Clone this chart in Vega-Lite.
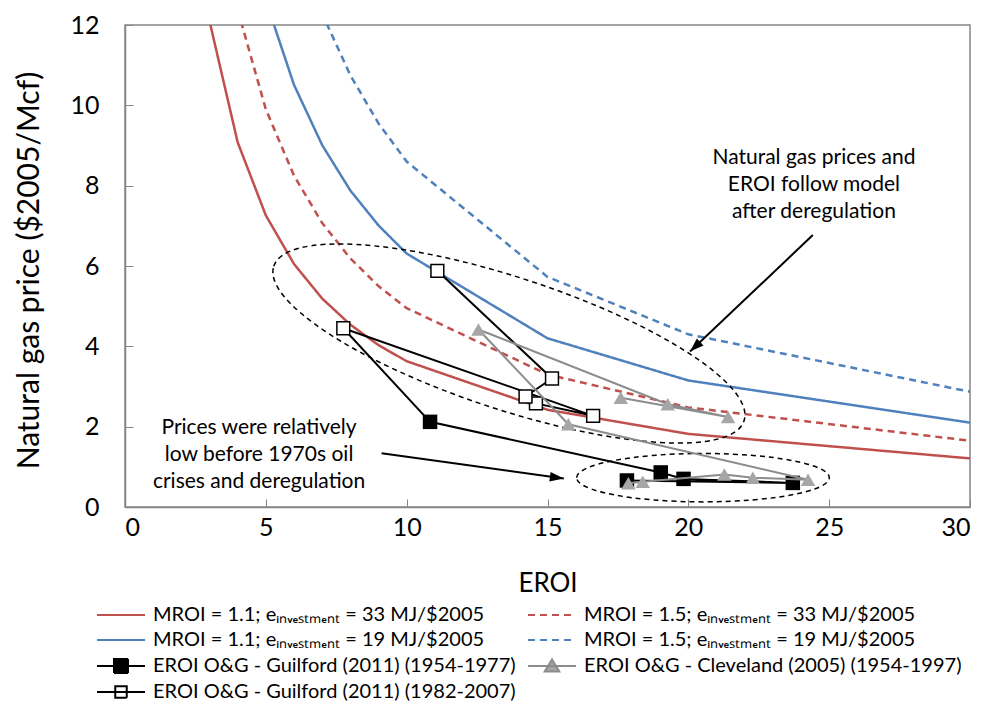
{
  "$schema": "https://vega.github.io/schema/vega-lite/v6.json",
  "width": 845,
  "height": 482,
  "autosize": {"type": "none"},
  "padding": {"left": 125, "top": 25, "right": 17, "bottom": 197},
  "background": "white",
  "datasets": {
    "curves": [
      {"s": "MROI = 1.1;  eᵢₙᵥₑₛₜₘₑₙₜ = 33 MJ/$2005", "x": 2, "y": 18.15},
      {"s": "MROI = 1.1;  eᵢₙᵥₑₛₜₘₑₙₜ = 33 MJ/$2005", "x": 3, "y": 12.10},
      {"s": "MROI = 1.1;  eᵢₙᵥₑₛₜₘₑₙₜ = 33 MJ/$2005", "x": 4, "y": 9.08},
      {"s": "MROI = 1.1;  eᵢₙᵥₑₛₜₘₑₙₜ = 33 MJ/$2005", "x": 5, "y": 7.26},
      {"s": "MROI = 1.1;  eᵢₙᵥₑₛₜₘₑₙₜ = 33 MJ/$2005", "x": 6, "y": 6.05},
      {"s": "MROI = 1.1;  eᵢₙᵥₑₛₜₘₑₙₜ = 33 MJ/$2005", "x": 7, "y": 5.19},
      {"s": "MROI = 1.1;  eᵢₙᵥₑₛₜₘₑₙₜ = 33 MJ/$2005", "x": 8, "y": 4.54},
      {"s": "MROI = 1.1;  eᵢₙᵥₑₛₜₘₑₙₜ = 33 MJ/$2005", "x": 9, "y": 4.03},
      {"s": "MROI = 1.1;  eᵢₙᵥₑₛₜₘₑₙₜ = 33 MJ/$2005", "x": 10, "y": 3.63},
      {"s": "MROI = 1.1;  eᵢₙᵥₑₛₜₘₑₙₜ = 33 MJ/$2005", "x": 15, "y": 2.42},
      {"s": "MROI = 1.1;  eᵢₙᵥₑₛₜₘₑₙₜ = 33 MJ/$2005", "x": 20, "y": 1.82},
      {"s": "MROI = 1.1;  eᵢₙᵥₑₛₜₘₑₙₜ = 33 MJ/$2005", "x": 30, "y": 1.21},
      {"s": "MROI = 1.5; eᵢₙᵥₑₛₜₘₑₙₜ = 33 MJ/$2005", "x": 3, "y": 16.5},
      {"s": "MROI = 1.5; eᵢₙᵥₑₛₜₘₑₙₜ = 33 MJ/$2005", "x": 4, "y": 12.38},
      {"s": "MROI = 1.5; eᵢₙᵥₑₛₜₘₑₙₜ = 33 MJ/$2005", "x": 5, "y": 9.9},
      {"s": "MROI = 1.5; eᵢₙᵥₑₛₜₘₑₙₜ = 33 MJ/$2005", "x": 6, "y": 8.25},
      {"s": "MROI = 1.5; eᵢₙᵥₑₛₜₘₑₙₜ = 33 MJ/$2005", "x": 7, "y": 7.07},
      {"s": "MROI = 1.5; eᵢₙᵥₑₛₜₘₑₙₜ = 33 MJ/$2005", "x": 8, "y": 6.19},
      {"s": "MROI = 1.5; eᵢₙᵥₑₛₜₘₑₙₜ = 33 MJ/$2005", "x": 9, "y": 5.5},
      {"s": "MROI = 1.5; eᵢₙᵥₑₛₜₘₑₙₜ = 33 MJ/$2005", "x": 10, "y": 4.95},
      {"s": "MROI = 1.5; eᵢₙᵥₑₛₜₘₑₙₜ = 33 MJ/$2005", "x": 15, "y": 3.3},
      {"s": "MROI = 1.5; eᵢₙᵥₑₛₜₘₑₙₜ = 33 MJ/$2005", "x": 20, "y": 2.48},
      {"s": "MROI = 1.5; eᵢₙᵥₑₛₜₘₑₙₜ = 33 MJ/$2005", "x": 30, "y": 1.65},
      {"s": "MROI = 1.1;  eᵢₙᵥₑₛₜₘₑₙₜ = 19 MJ/$2005", "x": 4, "y": 15.76},
      {"s": "MROI = 1.1;  eᵢₙᵥₑₛₜₘₑₙₜ = 19 MJ/$2005", "x": 5, "y": 12.61},
      {"s": "MROI = 1.1;  eᵢₙᵥₑₛₜₘₑₙₜ = 19 MJ/$2005", "x": 6, "y": 10.51},
      {"s": "MROI = 1.1;  eᵢₙᵥₑₛₜₘₑₙₜ = 19 MJ/$2005", "x": 7, "y": 9.01},
      {"s": "MROI = 1.1;  eᵢₙᵥₑₛₜₘₑₙₜ = 19 MJ/$2005", "x": 8, "y": 7.88},
      {"s": "MROI = 1.1;  eᵢₙᵥₑₛₜₘₑₙₜ = 19 MJ/$2005", "x": 9, "y": 7.01},
      {"s": "MROI = 1.1;  eᵢₙᵥₑₛₜₘₑₙₜ = 19 MJ/$2005", "x": 10, "y": 6.31},
      {"s": "MROI = 1.1;  eᵢₙᵥₑₛₜₘₑₙₜ = 19 MJ/$2005", "x": 15, "y": 4.2},
      {"s": "MROI = 1.1;  eᵢₙᵥₑₛₜₘₑₙₜ = 19 MJ/$2005", "x": 20, "y": 3.15},
      {"s": "MROI = 1.1;  eᵢₙᵥₑₛₜₘₑₙₜ = 19 MJ/$2005", "x": 30, "y": 2.1},
      {"s": "MROI = 1.5; eᵢₙᵥₑₛₜₘₑₙₜ = 19 MJ/$2005", "x": 5, "y": 17.2},
      {"s": "MROI = 1.5; eᵢₙᵥₑₛₜₘₑₙₜ = 19 MJ/$2005", "x": 6, "y": 14.33},
      {"s": "MROI = 1.5; eᵢₙᵥₑₛₜₘₑₙₜ = 19 MJ/$2005", "x": 7, "y": 12.28},
      {"s": "MROI = 1.5; eᵢₙᵥₑₛₜₘₑₙₜ = 19 MJ/$2005", "x": 8, "y": 10.75},
      {"s": "MROI = 1.5; eᵢₙᵥₑₛₜₘₑₙₜ = 19 MJ/$2005", "x": 9, "y": 9.55},
      {"s": "MROI = 1.5; eᵢₙᵥₑₛₜₘₑₙₜ = 19 MJ/$2005", "x": 10, "y": 8.6},
      {"s": "MROI = 1.5; eᵢₙᵥₑₛₜₘₑₙₜ = 19 MJ/$2005", "x": 15, "y": 5.73},
      {"s": "MROI = 1.5; eᵢₙᵥₑₛₜₘₑₙₜ = 19 MJ/$2005", "x": 20, "y": 4.3},
      {"s": "MROI = 1.5; eᵢₙᵥₑₛₜₘₑₙₜ = 19 MJ/$2005", "x": 30, "y": 2.87}
    ],
    "obs": [
      {"g": "G1", "year": 1954, "x": 17.82, "y": 0.66},
      {"g": "G1", "year": 1960, "x": 23.71, "y": 0.60},
      {"g": "G1", "year": 1965, "x": 19.83, "y": 0.70},
      {"g": "G1", "year": 1972, "x": 19.02, "y": 0.86},
      {"g": "G1", "year": 1977, "x": 10.83, "y": 2.12},
      {"g": "G2", "year": 1982, "x": 7.75, "y": 4.45},
      {"g": "G2", "year": 1987, "x": 16.62, "y": 2.27},
      {"g": "G2", "year": 1992, "x": 14.59, "y": 2.58},
      {"g": "G2", "year": 1997, "x": 14.22, "y": 2.75},
      {"g": "G2", "year": 2002, "x": 15.16, "y": 3.20},
      {"g": "G2", "year": 2007, "x": 11.09, "y": 5.88},
      {"g": "C", "year": 1954, "x": 17.87, "y": 0.59},
      {"g": "C", "year": 1957, "x": 18.38, "y": 0.63},
      {"g": "C", "year": 1962, "x": 21.28, "y": 0.81},
      {"g": "C", "year": 1967, "x": 22.29, "y": 0.73},
      {"g": "C", "year": 1972, "x": 24.25, "y": 0.68},
      {"g": "C", "year": 1977, "x": 15.74, "y": 2.06},
      {"g": "C", "year": 1982, "x": 12.55, "y": 4.42},
      {"g": "C", "year": 1987, "x": 19.27, "y": 2.56},
      {"g": "C", "year": 1992, "x": 21.41, "y": 2.24},
      {"g": "C", "year": 1997, "x": 17.6, "y": 2.72}
    ],
    "ann": [
      {"k": "e1", "x": 13.63, "y": 4.07},
      {"k": "e2", "x": 20.52, "y": 0.73},
      {"k": "a1", "x": 24.42, "y": 6.77, "x2": 20.06, "y2": 3.87},
      {"k": "a2", "x": 9.11, "y": 1.34, "x2": 15.58, "y2": 0.71},
      {"k": "h1", "x": 20.06, "y": 3.87},
      {"k": "h2", "x": 15.58, "y": 0.71},
      {"k": "t1", "x": 24.46, "y": 8.68, "t": "Natural gas prices and\nEROI follow model\nafter deregulation"},
      {"k": "t2", "x": 4.76, "y": 1.96, "t": "Prices were relatively\nlow before 1970s oil\ncrises and deregulation"}
    ]
  },
  "encoding": {
    "x": {"field": "x", "type": "quantitative", "title": "EROI",
      "scale": {"domain": [0, 30], "nice": false, "zero": false},
      "axis": {"values": [0, 5, 10, 15, 20, 25, 30], "labelPadding": 16, "titleX": 422.5, "titleY": 76, "titleBaseline": "middle"}},
    "y": {"field": "y", "type": "quantitative", "title": "Natural gas price ($2005/Mcf)",
      "scale": {"domain": [0, 12], "nice": false, "zero": false},
      "axis": {"values": [0, 2, 4, 6, 8, 10, 12], "labelPadding": 34, "titleX": -96, "titleY": 245, "titleBaseline": "middle", "titleFontSize": 30}}
  },
  "layer": [
    {
      "data": {"name": "curves"},
      "transform": [{"filter": "datum.x < 0"}],
      "mark": {"type": "point", "filled": false, "opacity": 1, "strokeWidth": 2},
      "encoding": {
        "color": {"field": "s", "type": "nominal", "title": null,
          "scale": {"domain": ["MROI = 1.1;  eᵢₙᵥₑₛₜₘₑₙₜ = 33 MJ/$2005", "MROI = 1.1;  eᵢₙᵥₑₛₜₘₑₙₜ = 19 MJ/$2005", "EROI O&G - Guilford (2011) (1954-1977)", "EROI O&G - Guilford (2011) (1982-2007)", "MROI = 1.5; eᵢₙᵥₑₛₜₘₑₙₜ = 33 MJ/$2005", "MROI = 1.5; eᵢₙᵥₑₛₜₘₑₙₜ = 19 MJ/$2005", "EROI O&G - Cleveland (2005) (1954-1997)"],
            "range": ["#C0504D", "#4F81BD", "#000000", "#000000", "#C0504D", "#4F81BD", "#8C8C8C"]},
          "legend": {"title": null, "orient": "none", "legendX": -14, "legendY": 580, "columns": 2}},
        "fill": {"field": "s", "type": "nominal", "title": null,
          "scale": {"domain": ["MROI = 1.1;  eᵢₙᵥₑₛₜₘₑₙₜ = 33 MJ/$2005", "MROI = 1.1;  eᵢₙᵥₑₛₜₘₑₙₜ = 19 MJ/$2005", "EROI O&G - Guilford (2011) (1954-1977)", "EROI O&G - Guilford (2011) (1982-2007)", "MROI = 1.5; eᵢₙᵥₑₛₜₘₑₙₜ = 33 MJ/$2005", "MROI = 1.5; eᵢₙᵥₑₛₜₘₑₙₜ = 19 MJ/$2005", "EROI O&G - Cleveland (2005) (1954-1997)"],
            "range": ["transparent", "transparent", "#000000", "#FFFFFF", "transparent", "transparent", "#A6A6A6"]},
          "legend": {"title": null, "orient": "none", "legendX": -14, "legendY": 580, "columns": 2}},
        "shape": {"field": "s", "type": "nominal", "title": null,
          "scale": {"domain": ["MROI = 1.1;  eᵢₙᵥₑₛₜₘₑₙₜ = 33 MJ/$2005", "MROI = 1.1;  eᵢₙᵥₑₛₜₘₑₙₜ = 19 MJ/$2005", "EROI O&G - Guilford (2011) (1954-1977)", "EROI O&G - Guilford (2011) (1982-2007)", "MROI = 1.5; eᵢₙᵥₑₛₜₘₑₙₜ = 33 MJ/$2005", "MROI = 1.5; eᵢₙᵥₑₛₜₘₑₙₜ = 19 MJ/$2005", "EROI O&G - Cleveland (2005) (1954-1997)"],
            "range": ["M-4.8,0L4.8,0", "M-4.8,0L4.8,0", "M-4.8,0L4.8,0M-1.4,-1.4L1.4,-1.4L1.4,1.4L-1.4,1.4Z", "M-4.8,0L4.8,0M-1.15,-1.15L1.15,-1.15L1.15,1.15L-1.15,1.15Z", "M-4.8,0L4.8,0", "M-4.8,0L4.8,0", "M-4.8,0L4.8,0M0,-1.3L1.45,1.1L-1.45,1.1Z"]},
          "legend": {"title": null, "orient": "none", "legendX": -14, "legendY": 580, "columns": 2}},
        "strokeDash": {"field": "s", "type": "nominal", "title": null,
          "scale": {"domain": ["MROI = 1.1;  eᵢₙᵥₑₛₜₘₑₙₜ = 33 MJ/$2005", "MROI = 1.1;  eᵢₙᵥₑₛₜₘₑₙₜ = 19 MJ/$2005", "EROI O&G - Guilford (2011) (1954-1977)", "EROI O&G - Guilford (2011) (1982-2007)", "MROI = 1.5; eᵢₙᵥₑₛₜₘₑₙₜ = 33 MJ/$2005", "MROI = 1.5; eᵢₙᵥₑₛₜₘₑₙₜ = 19 MJ/$2005", "EROI O&G - Cleveland (2005) (1954-1997)"],
            "range": [[1, 0], [1, 0], [1, 0], [1, 0], [7, 5], [7, 5], [1, 0]]},
          "legend": {"title": null, "orient": "none", "legendX": -14, "legendY": 580, "columns": 2}}
      }
    },
    {
      "data": {"name": "curves"},
      "mark": {"type": "line", "strokeWidth": 2.5, "clip": true},
      "encoding": {
        "order": {"field": "x", "type": "quantitative"},
        "color": {"field": "s", "type": "nominal", "title": null},
        "strokeDash": {"field": "s", "type": "nominal", "title": null}
      }
    },
    {
      "data": {"name": "ann"},
      "transform": [{"filter": "datum.k == 'e1'"}],
      "mark": {"type": "point", "filled": false, "opacity": 1, "stroke": "#000000", "strokeWidth": 1.5, "strokeDash": [5, 4], "size": 245025, "angle": 18.2,
        "shape": "M-1,0C-1,-0.1473 -0.5523,-0.2667 0,-0.2667C0.5523,-0.2667 1,-0.1473 1,0C1,0.1473 0.5523,0.2667 0,0.2667C-0.5523,0.2667 -1,0.1473 -1,0Z"}
    },
    {
      "data": {"name": "ann"},
      "transform": [{"filter": "datum.k == 'e2'"}],
      "mark": {"type": "point", "filled": false, "opacity": 1, "stroke": "#000000", "strokeWidth": 1.5, "strokeDash": [5, 4], "size": 63807, "angle": 0,
        "shape": "M-1,0C-1,-0.1058 -0.5523,-0.1916 0,-0.1916C0.5523,-0.1916 1,-0.1058 1,0C1,0.1058 0.5523,0.1916 0,0.1916C-0.5523,0.1916 -1,0.1058 -1,0Z"}
    },
    {
      "data": {"name": "obs"},
      "transform": [{"filter": "datum.g != 'C'"}],
      "mark": {"type": "line", "color": "#000000", "strokeWidth": 2, "clip": true},
      "encoding": {"order": {"field": "year", "type": "quantitative"}}
    },
    {
      "data": {"name": "obs"},
      "transform": [{"filter": "datum.g == 'G1'"}],
      "mark": {"type": "point", "shape": "square", "filled": true, "color": "#000000", "opacity": 1, "size": 210}
    },
    {
      "data": {"name": "obs"},
      "transform": [{"filter": "datum.g == 'G2'"}],
      "mark": {"type": "point", "shape": "square", "filled": true, "fill": "#FFFFFF", "stroke": "#000000", "strokeWidth": 1.5, "opacity": 1, "size": 165}
    },
    {
      "data": {"name": "obs"},
      "transform": [{"filter": "datum.g == 'C'"}],
      "mark": {"type": "line", "color": "#8C8C8C", "strokeWidth": 2, "clip": true},
      "encoding": {"order": {"field": "year", "type": "quantitative"}}
    },
    {
      "data": {"name": "obs"},
      "transform": [{"filter": "datum.g == 'C'"}],
      "mark": {"type": "point", "shape": "triangle-up", "filled": true, "color": "#A6A6A6", "opacity": 1, "size": 210}
    },
    {
      "data": {"name": "ann"},
      "transform": [{"filter": "datum.k == 'a1' || datum.k == 'a2'"}],
      "mark": {"type": "rule", "color": "#000000", "strokeWidth": 2},
      "encoding": {"x2": {"field": "x2"}, "y2": {"field": "y2"}}
    },
    {
      "data": {"name": "ann"},
      "transform": [{"filter": "datum.k == 'h1'"}],
      "mark": {"type": "point", "filled": true, "color": "#000000", "opacity": 1, "size": 306, "angle": 226.5, "shape": "M0,0L0.55,1.6L-0.55,1.6Z"}
    },
    {
      "data": {"name": "ann"},
      "transform": [{"filter": "datum.k == 'h2'"}],
      "mark": {"type": "point", "filled": true, "color": "#000000", "opacity": 1, "size": 306, "angle": 97.3, "shape": "M0,0L0.55,1.6L-0.55,1.6Z"}
    },
    {
      "data": {"name": "ann"},
      "transform": [{"filter": "datum.k == 't1' || datum.k == 't2'"}],
      "mark": {"type": "text", "font": "Lato", "fontSize": 21, "lineHeight": 27, "lineBreak": "\n", "align": "center", "baseline": "middle", "color": "#000000"},
      "encoding": {"text": {"field": "t", "type": "nominal"}}
    }
  ],
  "config": {
    "font": "Lato",
    "view": {"stroke": "#868686", "strokeWidth": 1.5},
    "axis": {"grid": false, "domainColor": "#868686", "domainWidth": 1.5, "tickColor": "#868686", "tickWidth": 1, "tickSize": -8,
      "labelFont": "Lato", "labelFontSize": 25, "labelColor": "#000000",
      "titleFont": "Lato", "titleFontSize": 26, "titleFontWeight": "normal", "titleColor": "#000000"},
    "legend": {"symbolSize": 100, "symbolStrokeWidth": 2, "symbolFillColor": "transparent", "symbolStrokeColor": "#000000", "symbolOpacity": 1,
      "labelFont": "Lato", "labelFontSize": 20, "labelColor": "#000000", "labelLimit": 600, "rowPadding": 5, "columnPadding": 8,
      "labelOffset": 22, "symbolOffset": 0, "padding": 0}
  }
}
